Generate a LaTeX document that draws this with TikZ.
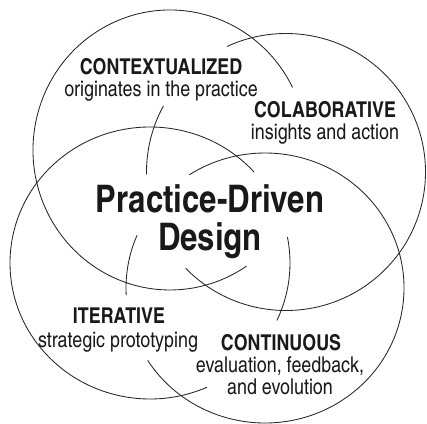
\documentclass[tikz,border=0pt]{standalone}
\usepackage{fontspec}
\setmainfont{texgyreheroscn}[Extension=.otf, UprightFont=*-regular, BoldFont=*-bold]

\begin{document}
\begin{tikzpicture}[x=1pt, y=1pt,
    ring/.style={line width=0.85pt, black!85},
    headtxt/.style={font=\fontsize{21.8}{22}\selectfont\bfseries, text=black!90, anchor=base, inner sep=0pt},
    subtxt/.style={font=\fontsize{21.8}{22}\selectfont, text=black!90, anchor=base, inner sep=0pt},
    titletxt/.style={font=\fontsize{38}{38}\selectfont\bfseries, text=black!90, anchor=base, inner sep=0pt}]
    \useasboundingbox (0,0) rectangle (427,423);
    % the four rings, drawn with their breaks
    \draw[ring] (170,273) ++(26.5:137 and 140) arc[start angle=26.5, end angle=304, x radius=137, y radius=140];
    \draw[ring] (286,251) ++(-136:139.5 and 138.5) arc[start angle=-136, end angle=115, x radius=139.5, y radius=138.5];
    \draw[ring] (286,251) ++(151.5:139.5 and 138.5) arc[start angle=151.5, end angle=181, x radius=139.5, y radius=138.5];
    \draw[ring] (150,160) ++(42:140 and 136) arc[start angle=42, end angle=294, x radius=140, y radius=136];
    \draw[ring] (150,160) ++(-25:140 and 136) arc[start angle=-25, end angle=11, x radius=140, y radius=136];
    \draw[ring] (265,135) ++(-147.6:139 and 135) arc[start angle=-147.6, end angle=123, x radius=139, y radius=135];
    \draw[ring] (265,135) ++(157:139 and 135) arc[start angle=157, end angle=183, x radius=139, y radius=135];
    % labels
    \node[headtxt] (ctxhead) at (161,348) {CONTEXTUALIZED};
    \node[subtxt] (ctxsub) at (161,326) {originates in the practice};
    \node[headtxt] (colhead) at (325,305) {COLABORATIVE};
    \node[subtxt] (colsub) at (325,283) {insights and action};
    \node[titletxt] (title) at (210,211) {Practice-Driven};
    \node[titletxt] (titleb) at (210,173) {Design};
    \node[headtxt] (ithead) at (119,100) {ITERATIVE};
    \node[subtxt] (itsub) at (118,76) {strategic prototyping};
    \node[headtxt] (conhead) at (281,73) {CONTINUOUS};
    \node[subtxt] (consub) at (280,51) {evaluation, feedback,};
    \node[subtxt] (consubb) at (280,29) {and evolution};
\end{tikzpicture}
\end{document}
